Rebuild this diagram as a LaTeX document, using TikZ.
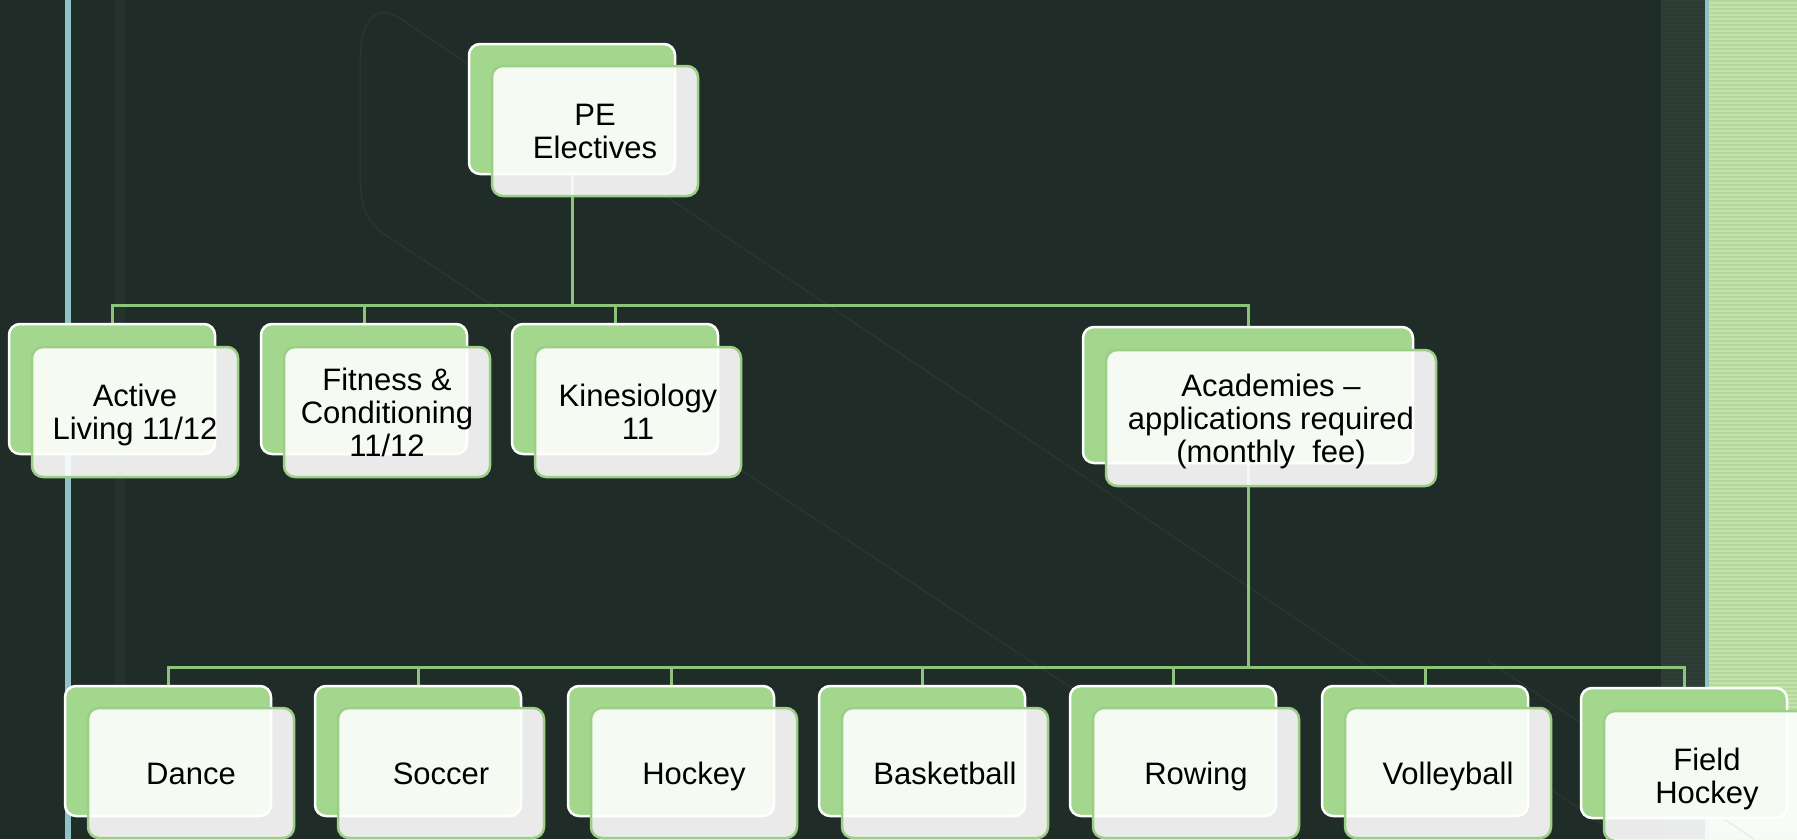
\documentclass[tikz,border=0pt]{standalone}
\usepackage{fontspec}
\setmainfont{Liberation Sans}
\definecolor{bgdark}{HTML}{1F2C28}
\definecolor{bandleft}{HTML}{25322E}
\definecolor{bandright}{HTML}{2C3A34}
\definecolor{bandstripe}{HTML}{303E38}
\definecolor{cyanline}{HTML}{8EC2C5}
\definecolor{greenbg}{HTML}{C4E3AB}
\definecolor{greenstripe}{HTML}{B4D79D}
\definecolor{backgreen}{HTML}{A3D78E}
\definecolor{frontgreen}{HTML}{9BCF85}
\definecolor{conngreen}{HTML}{8CC47A}
\definecolor{faint}{HTML}{283531}
\pgfdeclarelayer{bglayer}
\pgfdeclarelayer{connlayer}
\pgfsetlayers{bglayer,connlayer,main}
\tikzset{
  backbox/.style={draw=white, line width=2.5pt, fill=backgreen, rounded corners=11pt,
    minimum width=206pt, minimum height=130pt, inner sep=0pt},
  frontbox/.style={draw=frontgreen, line width=2.5pt, fill=white, fill opacity=0.9,
    text opacity=1, text=black, rounded corners=11pt, minimum width=206pt,
    minimum height=130pt, inner sep=0pt, align=center,
    font=\fontsize{31}{33}\selectfont},
  oneline/.style={frontbox, text height=27pt, text depth=5pt},
  nodepth/.style={text depth=0pt},
  bigback/.style={backbox, minimum width=330pt, minimum height=136pt},
  bigfront/.style={frontbox, minimum width=330pt, minimum height=136pt},
  conn/.style={draw=conngreen, line width=3pt},
  decor/.style={draw=faint, line width=1.5pt},
}
\begin{document}
\begin{tikzpicture}[x=1pt,y=-1pt]
\useasboundingbox (0,0) rectangle (1797,839);
\begin{pgfonlayer}{bglayer}
  \fill[bgdark] (0,0) rectangle (1797,839);
  \fill[bandleft] (115,0) rectangle (125,839);
  \fill[cyanline] (65,0) rectangle (70.5,839);
  \fill[bandright] (1661,0) rectangle (1705,839);
  \foreach \yy in {0,4,...,836} \fill[bandstripe] (1661,\yy) rectangle (1705,\yy+1.5);
  \fill[greenbg] (1709,0) rectangle (1797,839);
  \foreach \yy in {0,4,...,836} \fill[greenstripe] (1709,\yy) rectangle (1797,\yy+1.5);
  \fill[cyanline] (1705,0) rectangle (1709,839);
  \draw[decor] (1625,839) -- (410,25) .. controls (385,5) and (362,5) .. (360,60)
     -- (360,180) .. controls (362,215) and (370,225) .. (390,238) -- (1300,839);
  \draw[decor] (1487,660) -- (1754,839);
\end{pgfonlayer}

% top
\node[backbox] (pe) at (572,109) {};
\node[frontbox] (pef) at ([shift={(23,22)}]pe.center) {PE\\Electives};
% row 2
\node[backbox] (al) at (112,389) {};
\node[frontbox, nodepth] (alf) at ([shift={(23,23)}]al.center) {Active\\Living 11/12};
\node[backbox] (fc) at (364,389) {};
\node[frontbox] (fcf) at ([shift={(23,23)}]fc.center) {Fitness \&\\Conditioning\\11/12};
\node[backbox] (ki) at (615,389) {};
\node[frontbox] (kif) at ([shift={(23,23)}]ki.center) {Kinesiology\\11};
\node[bigback] (ac) at (1248,395) {};
\node[bigfront, nodepth] (acf) at ([shift={(23,23)}]ac.center) {Academies –\\applications required\\(monthly~ fee)};
% row 3
\node[backbox] (da) at (168,751) {};
\node[oneline] (daf) at ([shift={(23,22)}]da.center) {Dance};
\node[backbox] (so) at (418,751) {};
\node[oneline] (sof) at ([shift={(23,22)}]so.center) {Soccer};
\node[backbox] (ho) at (671,751) {};
\node[oneline] (hof) at ([shift={(23,22)}]ho.center) {Hockey};
\node[backbox] (ba) at (922,751) {};
\node[oneline] (baf) at ([shift={(23,22)}]ba.center) {Basketball};
\node[backbox] (ro) at (1173,751) {};
\node[oneline] (rof) at ([shift={(23,22)}]ro.center) {Rowing};
\node[backbox] (vo) at (1425,751) {};
\node[oneline] (vof) at ([shift={(23,22)}]vo.center) {Volleyball};
\node[backbox] (fh) at (1684,753) {};
\node[frontbox, nodepth] (fhf) at ([shift={(23,23)}]fh.center) {Field\\Hockey};

\coordinate (bus1) at (0,305);
\coordinate (bus2) at (0,667);
\begin{pgfonlayer}{connlayer}
  \foreach \c in {al,fc,ki,ac}
    \draw[conn] (pe.south) -- (pe.south |- bus1) -| (\c.north);
  \foreach \c in {da,so,ho,ba,ro,vo,fh}
    \draw[conn] (ac.south) -- (ac.south |- bus2) -| (\c.north);
\end{pgfonlayer}
\end{tikzpicture}
\end{document}
